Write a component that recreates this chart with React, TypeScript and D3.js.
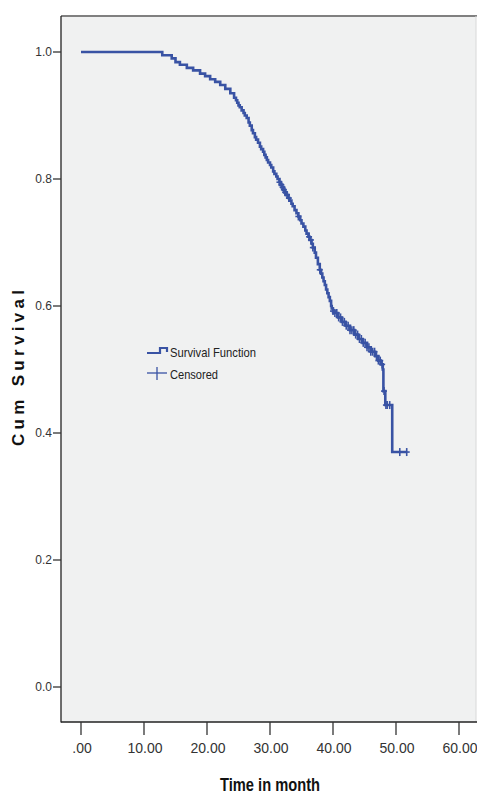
import React from "react";
import * as d3 from "d3";

// Kaplan-Meier steps (months, cumulative survival)
const eventTimes = [
  0, 12.9, 14.4, 15.0, 15.7, 16.8, 17.8, 18.9, 19.7, 20.5, 21.3, 22.1, 22.9, 23.7,
  24.3, 24.6, 24.8, 25.0, 25.2, 25.5, 25.8, 26.0, 26.3, 26.6, 26.8, 27.1, 27.3,
  27.6, 27.8, 28.1, 28.4, 28.6, 28.9, 29.1, 29.3, 29.5, 29.7, 30.0, 30.2, 30.5,
  30.7, 31.0, 31.2, 31.5, 31.7, 31.9, 32.1, 32.4, 32.6, 32.9, 33.1, 33.4, 33.6,
  33.9, 34.2, 34.5, 34.8, 35.0, 35.3, 35.6, 35.8, 36.1, 36.3, 36.6, 36.8, 37.1,
  37.3, 37.6, 37.9, 38.1, 38.3, 38.5, 38.7, 38.9, 39.1, 39.3, 39.5, 39.7, 39.8,
  40.0, 40.2, 40.8, 41.4, 42.0, 42.7, 43.4, 44.0, 44.7, 45.4, 46.0, 46.7, 47.2,
  47.6, 47.9, 48.0, 48.3, 49.4,
];
const survival = [
  1.0, 0.995, 0.99, 0.984, 0.98, 0.975, 0.971, 0.966, 0.962, 0.957, 0.953, 0.948,
  0.942, 0.935,
  0.928, 0.924, 0.92, 0.916, 0.913, 0.908, 0.904, 0.9, 0.896, 0.889, 0.884, 0.877,
  0.872, 0.866, 0.862, 0.857, 0.851, 0.847, 0.843, 0.838, 0.834, 0.83, 0.826,
  0.822, 0.818, 0.812, 0.808, 0.804, 0.8, 0.795, 0.791, 0.787, 0.783, 0.779,
  0.775, 0.77, 0.766, 0.761, 0.757, 0.751, 0.746, 0.741, 0.735, 0.73, 0.725,
  0.719, 0.714, 0.709, 0.704, 0.698, 0.692, 0.684, 0.676, 0.666, 0.657, 0.651,
  0.645, 0.639, 0.633, 0.626, 0.62, 0.614, 0.608, 0.6, 0.596, 0.592, 0.589,
  0.582, 0.575, 0.569, 0.562, 0.555, 0.548, 0.542, 0.535, 0.528, 0.521, 0.514,
  0.508, 0.5, 0.466, 0.444, 0.37,
];
const lastTime = 51.7;

const censoredTimes = [
  31.5, 31.8, 32.0, 32.2, 32.4, 32.7, 33.0, 34.5, 36.2, 36.5, 36.8, 37.9,
  40.0, 40.3, 40.6, 40.9, 41.2, 41.5, 41.8, 42.1, 42.4, 42.7, 43.0, 43.3, 43.6,
  43.9, 44.2, 44.5, 44.8, 45.1, 45.4, 45.7, 46.0, 46.3, 46.6, 46.9, 47.2, 47.5,
  47.8, 48.1, 48.4, 48.6, 49.0, 50.6, 51.7,
];

const xTicks = [0, 10, 20, 30, 40, 50, 60];
const yTicks = [0, 0.2, 0.4, 0.6, 0.8, 1.0];

const blue = "#3953a4";
const narrow = "'Liberation Sans Narrow', 'Arial Narrow', 'Liberation Sans', Arial, sans-serif";

const App = () => {
  const width = 477;
  const height = 796;
  const plot = { left: 61, right: 476, top: 16, bottom: 722 };

  const xScale = d3.scaleLinear().domain([0, 60]).range([81, 459]);
  const yScale = d3.scaleLinear().domain([0, 1]).range([687, 52]);

  const steps: [number, number][] = eventTimes.map((t, i) => [t, survival[i]]);
  steps.push([lastTime, survival[survival.length - 1]]);

  const lineGen = d3
    .line<[number, number]>()
    .x((d) => xScale(d[0]))
    .y((d) => yScale(d[1]))
    .curve(d3.curveStepAfter);

  const survAt = (t: number) => {
    const i = d3.bisectRight(eventTimes, t) - 1;
    return survival[Math.max(0, i)];
  };

  const fmtX = (v: number) => (v === 0 ? ".00" : v.toFixed(2));

  return (
    <svg width={width} height={height} style={{ display: "block", position: "absolute", left: 0, top: 0 }}>
      <rect x={0} y={0} width={width} height={height} fill="#ffffff" />
      <rect
        x={plot.left}
        y={plot.top}
        width={plot.right - plot.left}
        height={plot.bottom - plot.top}
        fill="#f0f1f1"
      />
      {/* frame */}
      <line x1={plot.left} x2={width} y1={plot.top} y2={plot.top} stroke="#808080" strokeWidth={2} />
      <line x1={plot.right} x2={plot.right} y1={plot.top} y2={plot.bottom} stroke="#d8d8d8" strokeWidth={1} />
      <line x1={plot.left} x2={plot.left} y1={plot.top} y2={plot.bottom + 0.5} stroke="#222" strokeWidth={1.3} />
      <line x1={plot.left} x2={width} y1={plot.bottom} y2={plot.bottom} stroke="#222" strokeWidth={1.3} />

      {/* y axis */}
      {yTicks.map((v) => (
        <g key={v}>
          <line x1={53} x2={plot.left} y1={yScale(v)} y2={yScale(v)} stroke="#333" strokeWidth={1.3} />
          <text
            x={52}
            y={yScale(v)}
            dy="0.35em"
            textAnchor="end"
            fontFamily={narrow}
            fontSize={12}
            fill="#333"
          >
            {v.toFixed(1)}
          </text>
        </g>
      ))}

      {/* x axis */}
      {xTicks.map((v) => (
        <g key={v}>
          <line x1={xScale(v)} x2={xScale(v)} y1={plot.bottom} y2={735} stroke="#333" strokeWidth={1.3} />
          <text
            x={xScale(v) + 1}
            y={748}
            dy="0.35em"
            textAnchor="middle"
            fontFamily={narrow}
            fontSize={14}
            fill="#333"
          >
            {fmtX(v)}
          </text>
        </g>
      ))}

      {/* survival curve */}
      <path d={lineGen(steps) ?? ""} fill="none" stroke={blue} strokeWidth={2.6} />

      {/* censored marks */}
      {censoredTimes.map((t, i) => {
        const cx = xScale(t);
        const cy = yScale(survAt(t));
        return (
          <g key={i} stroke={blue} strokeWidth={1.6}>
            <line x1={cx} x2={cx} y1={cy - 4} y2={cy + 4} />
            <line x1={cx - 3} x2={cx + 3} y1={cy} y2={cy} />
          </g>
        );
      })}

      {/* legend */}
      <path d="M147,353 H160 V348 H167 V352" fill="none" stroke={blue} strokeWidth={2.2} />
      <text x={170} y={357} fontFamily={narrow} fontSize={13} fill="#222" textLength={86} lengthAdjust="spacingAndGlyphs">
        Survival Function
      </text>
      <line x1={147} x2={167} y1={373} y2={373} stroke={blue} strokeWidth={1.3} />
      <line x1={157} x2={157} y1={367} y2={380} stroke={blue} strokeWidth={1.3} />
      <text x={170} y={379} fontFamily={narrow} fontSize={13} fill="#222" textLength={48} lengthAdjust="spacingAndGlyphs">
        Censored
      </text>

      {/* axis titles */}
      <text
        transform="translate(24,368) rotate(-90)"
        textAnchor="middle"
        fontFamily="'Liberation Sans', Arial, sans-serif"
        fontWeight="bold"
        fontSize={17}
        fill="#111"
        textLength={156}
        lengthAdjust="spacing"
      >
        Cum Survival
      </text>
      <text
        x={270}
        y={791}
        textAnchor="middle"
        fontFamily={narrow}
        fontWeight="bold"
        fontSize={19}
        fill="#111"
        textLength={100}
        lengthAdjust="spacingAndGlyphs"
      >
        Time in month
      </text>
    </svg>
  );
};

export default App;
